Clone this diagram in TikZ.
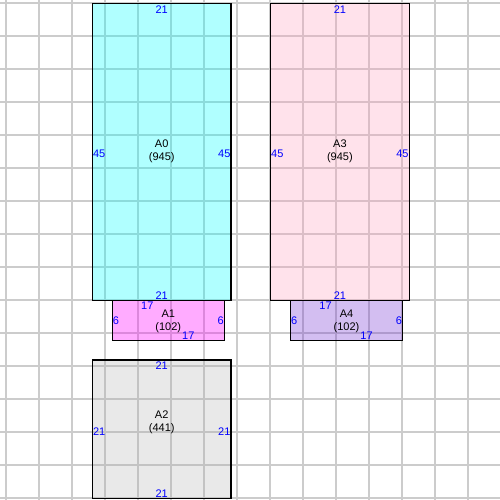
\documentclass[tikz,border=0pt]{standalone}
\usepackage{fontspec}
\setmainfont{Liberation Sans}
\begin{document}
\begin{tikzpicture}[x=1pt,y=-1pt,
  font=\fontsize{11}{13}\selectfont,
  room/.style={draw=black,line width=1.2pt},
  gridline/.style={draw=black!20,line width=1.4pt},
  dim/.style={text=blue,inner sep=1pt},
  lbl/.style={align=center,inner sep=0pt,text=black}]
\useasboundingbox (0,0) rectangle (500,500);
\fill[white] (0,0) rectangle (500,500);
% grid
\foreach \k in {0,...,15}{
  \draw[gridline] ({6+33*\k},-2) -- ({6+33*\k},502);
  \draw[gridline] (-2,{3+33*\k}) -- (502,{3+33*\k});
}
\begin{scope}[shift={(6,3)},x=6.6pt,y=-6.6pt]
% rooms (semi-transparent fill over the grid)
\path[fill={rgb,255:red,0;green,255;blue,255},fill opacity=0.31] (13,0) rectangle (34,45);
\path[fill={rgb,255:red,255;green,0;blue,255},fill opacity=0.33] (16,45) rectangle (33,51);
\path[fill={rgb,255:red,170;green,170;blue,170},fill opacity=0.25] (13,54) rectangle (34,75);
\path[fill={rgb,255:red,255;green,160;blue,190},fill opacity=0.30] (40,0) rectangle (61,45);
\path[fill={rgb,255:red,110;green,40;blue,210},fill opacity=0.30] (43,45) rectangle (60,51);
\node[room,fill=none,minimum width=138.6pt,minimum height=297pt,inner sep=0pt,anchor=north west] (A0) at (13,0) {};
\node[room,fill=none,minimum width=112.2pt,minimum height=39.6pt,inner sep=0pt,anchor=north west] (A1) at (16,45) {};
\node[room,fill=none,minimum width=138.6pt,minimum height=138.6pt,inner sep=0pt,anchor=north west] (A2) at (13,54) {};
\node[room,fill=none,minimum width=138.6pt,minimum height=297pt,inner sep=0pt,anchor=north west] (A3) at (40,0) {};
\node[room,fill=none,minimum width=112.2pt,minimum height=39.6pt,inner sep=0pt,anchor=north west] (A4) at (43,45) {};
\end{scope}
% names
\node[lbl] (t0) at ([yshift=1pt]A0.center) {A0\\(945)};
\node[lbl] (t3) at ([yshift=1pt]A3.center) {A3\\(945)};
\node[lbl] (t2) at ([yshift=7pt]A2.center) {A2\\(441)};
\node[lbl] (t1) at ([yshift=-1pt]A1.center) {A1\\(102)};
\node[lbl] (t4) at ([yshift=-1pt]A4.center) {A4\\(102)};
% dimensions A0
\node[dim,anchor=north] (d0t) at ([yshift=-1.5pt]A0.north) {21};
\node[dim,anchor=south] (d0b) at ([yshift=1pt]A0.south) {21};
\node[dim,anchor=west] (d0l) at ([yshift=-2pt]A0.west) {45};
\node[dim,anchor=east] (d0r) at ([yshift=-2pt]A0.east) {45};
% A3
\node[dim,anchor=north] (d3t) at ([yshift=-1.5pt]A3.north) {21};
\node[dim,anchor=south] (d3b) at ([yshift=1pt]A3.south) {21};
\node[dim,anchor=west] (d3l) at ([yshift=-2pt]A3.west) {45};
\node[dim,anchor=east] (d3r) at ([yshift=-2pt]A3.east) {45};
% A2
\node[dim,anchor=north] (d2t) at ([yshift=-1.5pt]A2.north) {21};
\node[dim,anchor=south] (d2b) at ([yshift=1pt]A2.south) {21};
\node[dim,anchor=west] (d2l) at ([yshift=-2pt]A2.west) {21};
\node[dim,anchor=east] (d2r) at ([yshift=-2pt]A2.east) {21};
% A1
\node[dim,anchor=north] (d1t) at ([xshift=-21pt,yshift=-0.5pt]A1.north) {17};
\node[dim,anchor=south] (d1b) at ([xshift=20pt,yshift=0pt]A1.south) {17};
\node[dim,anchor=west] (d1l) at ([yshift=0pt]A1.west) {6};
\node[dim,anchor=east] (d1r) at ([yshift=0pt]A1.east) {6};
% A4
\node[dim,anchor=north] (d4t) at ([xshift=-21pt,yshift=-0.5pt]A4.north) {17};
\node[dim,anchor=south] (d4b) at ([xshift=20pt,yshift=0pt]A4.south) {17};
\node[dim,anchor=west] (d4l) at ([yshift=0pt]A4.west) {6};
\node[dim,anchor=east] (d4r) at ([yshift=0pt]A4.east) {6};
\end{tikzpicture}
\end{document}
